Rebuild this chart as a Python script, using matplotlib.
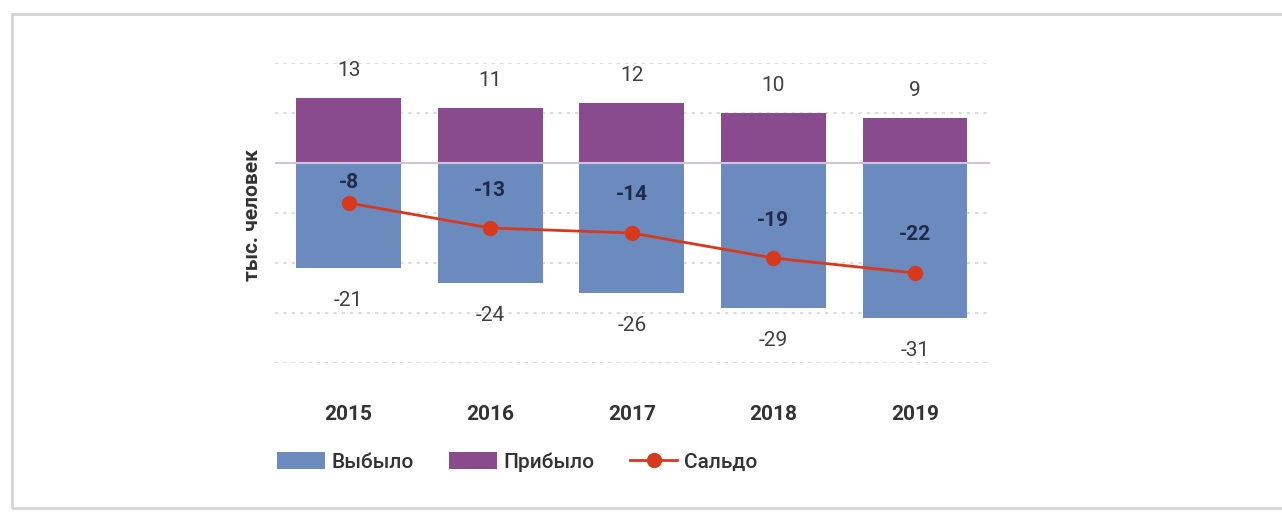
import matplotlib.pyplot as plt
from matplotlib.patches import Rectangle

# migration balance by year, thousand people
years = ['2015', '2016', '2017', '2018', '2019']
arrived = [13, 11, 12, 10, 9]
departed = [-21, -24, -26, -29, -31]
balance = [-8, -13, -14, -19, -22]

BLUE = '#6b8bbf'
PURPLE = '#8a4a8e'
RED = '#d8391d'
TEXT = '#404040'
NAVY = '#1f2b48'

plt.rcParams['font.family'] = ['Roboto', 'DejaVu Sans']

fig = plt.figure(figsize=(12.82, 5.14), dpi=100)
ax = fig.add_axes([275 / 1282, 1 - 363 / 514, 715 / 1282, 300 / 514])

x = list(range(len(years)))
w = 0.74
b1 = ax.bar(x, departed, width=w, color=BLUE, label='Выбыло', zorder=2)
b2 = ax.bar(x, arrived, width=w, color=PURPLE, label='Прибыло', zorder=2)
ln, = ax.plot(x, balance, color=RED, lw=2, marker='o', ms=10,
              label='Сальдо', zorder=4)

for i in x:
    ax.text(i, arrived[i] + 5.5, str(arrived[i]), ha='center', va='center',
            fontsize=15, color=TEXT)
    ax.text(i, departed[i] - 6.5, str(departed[i]), ha='center', va='center',
            fontsize=15, color=TEXT)
    ax.text(i, min(balance[i] + 7.6, -4), str(balance[i]), ha='center',
            va='center', fontsize=15, color=NAVY, fontweight='semibold',
            zorder=5)

# grid: dotted every 10, solid at zero
for y in [20, 10, -10, -20, -30, -40]:
    ax.axhline(y, color='#d6d6d6', lw=1.2, ls=(0, (2, 3)), zorder=1)
ax.axhline(0, color='#cfc4dc', lw=1.5, zorder=3)

ax.set_xlim(-0.52, 4.53)
ax.set_ylim(-40, 20)
ax.set_xticks(x)
ax.set_xticklabels(years, fontsize=15, color='#333333', fontweight='semibold')
ax.tick_params(axis='x', length=0, pad=30)
ax.set_yticks([])
for s in ax.spines.values():
    s.set_visible(False)

fig.text(253 / 1282, 1 - 215 / 514, 'тыс. человек', rotation=90, ha='center',
         va='center', fontsize=15, color='#333333', fontweight='semibold')

fig.legend(handles=[b1, b2, ln], loc='center', ncol=3, frameon=False,
           bbox_to_anchor=(517 / 1282, 1 - 462 / 514),
           prop={'size': 15, 'weight': 'medium'},
           handlelength=2.3, handleheight=0.9, columnspacing=1.7,
           handletextpad=0.3, labelcolor='#333333')

# thin frame around the card
fig.patches.append(Rectangle((12 / 1282, 6 / 514), 1.3, 494 / 514,
                             transform=fig.transFigure, fill=False,
                             edgecolor='#d4d4d4', lw=2))

fig.savefig('out.png', dpi=100)
